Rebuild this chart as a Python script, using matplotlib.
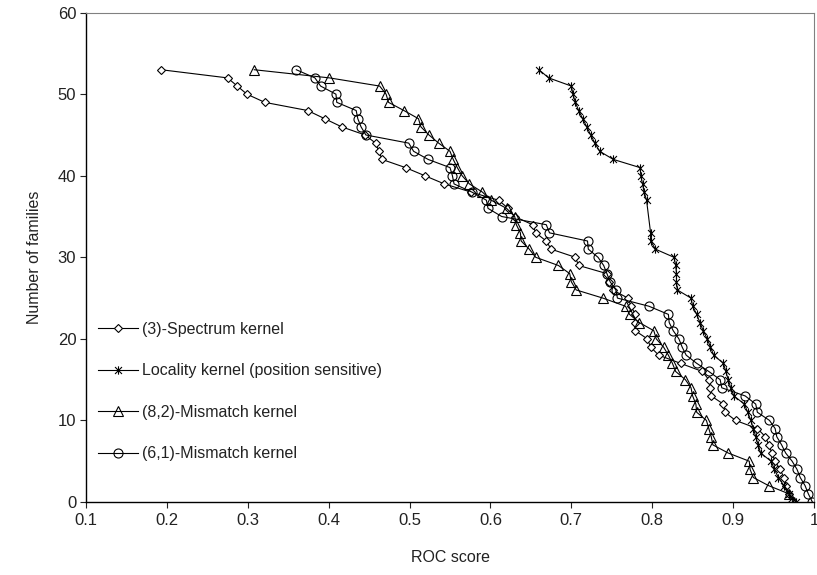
import matplotlib
matplotlib.use("Agg")
import matplotlib.pyplot as plt
from matplotlib.path import Path

plt.rcParams["font.family"] = ["Liberation Sans", "DejaVu Sans"]

# ROC score vs number of families with score >= that value
spec_roc = [0.193, 0.275, 0.287, 0.299, 0.321, 0.374, 0.395, 0.416, 0.445, 0.458,
            0.462, 0.466, 0.495, 0.519, 0.543, 0.576, 0.610, 0.622, 0.630, 0.652,
            0.656, 0.669, 0.675, 0.705, 0.709, 0.744, 0.747, 0.751, 0.770, 0.774,
            0.779, 0.779, 0.779, 0.794, 0.798, 0.808, 0.835, 0.862, 0.870, 0.872,
            0.873, 0.888, 0.890, 0.903, 0.930, 0.940, 0.944, 0.948, 0.952, 0.958,
            0.963, 0.966, 0.969, 0.973]
spec_fam = [53, 52, 51, 50, 49, 48, 47, 46, 45, 44, 43, 42, 41, 40, 39, 38, 37, 36,
            35, 34, 33, 32, 31, 30, 29, 28, 27, 26, 25, 24, 23, 22, 21, 20, 19, 18,
            17, 16, 15, 14, 13, 12, 11, 10, 9, 8, 7, 6, 5, 4, 3, 2, 1, 0]

loc_roc = [0.660, 0.672, 0.700, 0.702, 0.705, 0.709, 0.714, 0.719, 0.724, 0.729,
           0.735, 0.752, 0.785, 0.786, 0.788, 0.790, 0.793, 0.798, 0.798, 0.804,
           0.827, 0.829, 0.830, 0.830, 0.831, 0.848, 0.850, 0.855, 0.859, 0.863,
           0.868, 0.872, 0.876, 0.888, 0.891, 0.894, 0.897, 0.901, 0.914, 0.918,
           0.922, 0.925, 0.928, 0.931, 0.934, 0.947, 0.951, 0.956, 0.963, 0.969,
           0.978]
loc_fam = [53, 52, 51, 50, 49, 48, 47, 46, 45, 44, 43, 42, 41, 40, 39, 38, 37, 33,
           32, 31, 30, 29, 28, 27, 26, 25, 24, 23, 22, 21, 20, 19, 18, 17, 16, 15,
           14, 13, 12, 11, 10, 9, 8, 7, 6, 5, 4, 3, 2, 1, 0]

mm82_roc = [0.308, 0.401, 0.463, 0.471, 0.474, 0.493, 0.511, 0.514, 0.524, 0.536,
            0.550, 0.554, 0.559, 0.565, 0.574, 0.590, 0.601, 0.620, 0.630, 0.632,
            0.637, 0.638, 0.648, 0.656, 0.684, 0.698, 0.700, 0.706, 0.739, 0.767,
            0.772, 0.784, 0.802, 0.805, 0.814, 0.820, 0.825, 0.829, 0.841, 0.848,
            0.850, 0.854, 0.855, 0.867, 0.870, 0.873, 0.875, 0.894, 0.920, 0.921,
            0.925, 0.944, 0.969, 0.975]
mm82_fam = spec_fam[:]

mm61_roc = [0.360, 0.383, 0.390, 0.409, 0.410, 0.434, 0.436, 0.440, 0.446, 0.499,
            0.505, 0.523, 0.550, 0.553, 0.555, 0.577, 0.595, 0.597, 0.614, 0.669,
            0.673, 0.720, 0.721, 0.733, 0.740, 0.744, 0.748, 0.755, 0.757, 0.796,
            0.820, 0.821, 0.826, 0.833, 0.837, 0.842, 0.855, 0.870, 0.884, 0.886,
            0.915, 0.928, 0.930, 0.945, 0.952, 0.954, 0.960, 0.965, 0.973, 0.979,
            0.983, 0.989, 0.993, 0.998]
mm61_fam = spec_fam[:]

x_ticks = [0.1, 0.2, 0.3, 0.4, 0.5, 0.6, 0.7, 0.8, 0.9, 1]
x_tick_labels = ["0.1", "0.2", "0.3", "0.4", "0.5", "0.6", "0.7", "0.8", "0.9", "1"]
y_ticks = [0, 10, 20, 30, 40, 50, 60]

# Excel-style star marker: an X with a vertical bar
STAR = Path([(-1, -1), (1, 1), (-1, 1), (1, -1), (0, -1.2), (0, 1.2)],
            [Path.MOVETO, Path.LINETO, Path.MOVETO, Path.LINETO,
             Path.MOVETO, Path.LINETO])

fig = plt.figure(figsize=(8.17, 5.75), dpi=100)
ax = fig.add_axes([0.1053, 0.127, 0.8910, 0.851])

common = dict(color="black", linewidth=0.8, markeredgecolor="black",
              markeredgewidth=0.8)
ax.plot(spec_roc, spec_fam, marker="D", markersize=3.6, markerfacecolor="white",
        label="(3)-Spectrum kernel", **common)
ax.plot(loc_roc, loc_fam, marker=STAR, markersize=6, markerfacecolor="none",
        label="Locality kernel (position sensitive)", **common)
ax.plot(mm82_roc, mm82_fam, marker="^", markersize=6.5, markerfacecolor="none",
        label="(8,2)-Mismatch kernel", **common)
ax.plot(mm61_roc, mm61_fam, marker="o", markersize=6.5, markerfacecolor="none",
        label="(6,1)-Mismatch kernel", **common)

ax.set_xlim(0.1, 1)
ax.set_ylim(0, 60)
ax.set_xticks(x_ticks)
ax.set_xticklabels(x_tick_labels)
ax.set_yticks(y_ticks)
ax.tick_params(direction="out", length=4, width=0.8, labelsize=12,
               labelcolor="#222222", colors="#222222")
ax.tick_params(axis="x", pad=4)
ax.tick_params(axis="y", pad=3)

for side in ("top", "right"):
    ax.spines[side].set_color("#808080")
    ax.spines[side].set_linewidth(0.8)
for side in ("left", "bottom"):
    ax.spines[side].set_color("black")
    ax.spines[side].set_linewidth(1.0)

ax.set_xlabel("ROC score", fontsize=11.5, color="#222222", labelpad=16)
ax.set_ylabel("Number of families", fontsize=11.5, color="#222222", labelpad=11)

ax.legend(loc="upper left", bbox_to_anchor=(0.017, 0.368), frameon=False,
          fontsize=11.5, labelspacing=1.66, handlelength=2.5, handletextpad=0.25,
          borderpad=0, borderaxespad=0, labelcolor="#222222")

fig.savefig("out.png", dpi=100)
